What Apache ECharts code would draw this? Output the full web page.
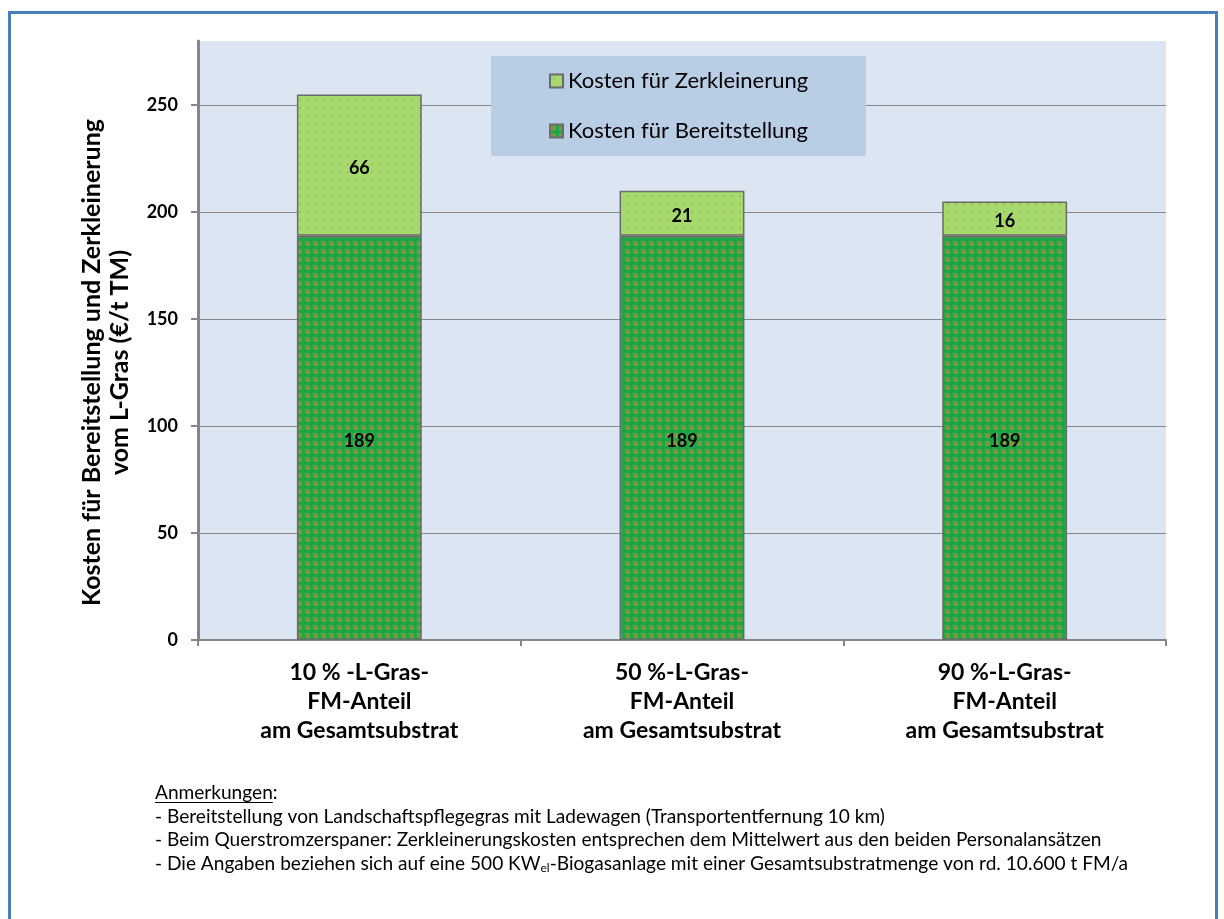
<!DOCTYPE html>
<html>
<head>
<meta charset="utf-8">
<script src="https://cdn.jsdelivr.net/npm/echarts@6/dist/echarts.min.js"></script>
<style>
html,body{margin:0;padding:0;background:#fff;}
#chart{width:1224px;height:919px;}
</style>
</head>
<body>
<div id="chart"></div>
<script>
// ---- data ----
var categories = ['10 % -L-Gras-\nFM-Anteil\nam Gesamtsubstrat', '50 %-L-Gras-\nFM-Anteil\nam Gesamtsubstrat', '90 %-L-Gras-\nFM-Anteil\nam Gesamtsubstrat'];
var seriesNames = ['Kosten für Bereitstellung', 'Kosten für Zerkleinerung'];
var bereitstellung = [189, 189, 189];
var zerkleinerung = [66, 21, 16];
var yTicks = [0, 50, 100, 150, 200, 250];
var yAxisTitle = 'Kosten für Bereitstellung und Zerkleinerung\nvom L-Gras (€/t TM)';
var notesTitle = 'Anmerkungen';
var notes = [
  '- Bereitstellung von Landschaftspflegegras mit Ladewagen (Transportentfernung 10 km)',
  '- Beim Querstromzerspaner: Zerkleinerungskosten entsprechen dem Mittelwert aus den beiden Personalansätzen',
  '- Die Angaben beziehen sich auf eine 500 KW{sub|el}-Biogasanlage mit einer Gesamtsubstratmenge von rd. 10.600 t FM/a'
];

var FONT = 'Lato, "Open Sans", sans-serif';
var NOTE_SIZE = 19.1;

function makePattern(kind) {
  var c = document.createElement('canvas');
  c.width = 8; c.height = 8;
  var g = c.getContext('2d');
  if (kind === 'dark') {
    g.fillStyle = '#1ca64a'; g.fillRect(0, 0, 8, 8);
    g.fillStyle = '#7c983a'; g.fillRect(1, 1, 5, 5);
  } else {
    g.fillStyle = '#a8d96f'; g.fillRect(0, 0, 8, 8);
    g.fillStyle = '#8fc75a'; g.fillRect(3, 3, 2, 2);
  }
  return { image: c, repeat: 'repeat' };
}
var darkPat = makePattern('dark');
var lightPat = makePattern('light');

// underline width for notes title
var mc = document.createElement('canvas').getContext('2d');
mc.font = NOTE_SIZE + 'px ' + FONT;
var ulW = mc.measureText(notesTitle).width;

var chart = echarts.init(document.getElementById('chart'), null, {renderer: 'canvas'});

var noteGraphics = [];
noteGraphics.push({
  type: 'text', x: 155, y: 793, z: 10,
  style: { text: notesTitle + ':', font: NOTE_SIZE + 'px ' + FONT, fill: '#000', verticalAlign: 'middle' }
});
noteGraphics.push({
  type: 'line', z: 10,
  shape: { x1: 155, y1: 802.5, x2: 155 + ulW, y2: 802.5 },
  style: { stroke: '#000', lineWidth: 1 }
});
notes.forEach(function (t, i) {
  noteGraphics.push({
    type: 'text', x: 155, y: 816.5 + i * 23.5, z: 10,
    style: {
      text: t, font: NOTE_SIZE + 'px ' + FONT, fill: '#000', verticalAlign: 'middle',
      rich: { sub: { fontSize: 12, fontFamily: FONT, padding: [10, 0, 0, 0] } }
    }
  });
});

var labelStyle = { show: true, position: 'inside', offset: [0, 3], fontSize: 18, fontWeight: 'bold', color: '#000', fontFamily: FONT };

var option = {
  animation: false,
  textStyle: { fontFamily: FONT },
  grid: {
    left: 198, right: 58, top: 41, bottom: 279,
    show: true, backgroundColor: '#dce6f2', borderWidth: 0
  },
  legend: {
    data: [seriesNames[1], seriesNames[0]],
    orient: 'vertical',
    left: 544, top: 65,
    itemWidth: 13, itemHeight: 13, itemGap: 28,
    icon: 'rect',
    z: 6,
    textStyle: { fontSize: 22, lineHeight: 22, color: '#000', fontFamily: FONT }
  },
  xAxis: {
    type: 'category',
    data: categories,
    axisLine: { show: true, lineStyle: { color: '#868686', width: 2 } },
    axisTick: { show: true, alignWithLabel: false, length: 6, lineStyle: { color: '#868686', width: 2 } },
    axisLabel: {
      interval: 0, margin: 18, lineHeight: 29,
      fontSize: 23, fontWeight: 'bold', color: '#000', fontFamily: FONT
    },
    splitLine: { show: false }
  },
  yAxis: {
    type: 'value',
    min: 0, max: 280, interval: 50,
    name: yAxisTitle,
    nameLocation: 'middle',
    nameGap: 64,
    nameTextStyle: { fontSize: 25, fontWeight: 'bold', color: '#000', lineHeight: 28, fontFamily: FONT, padding: [0, 44, 0, 0] },
    axisLine: { show: true, lineStyle: { color: '#868686', width: 3 } },
    axisTick: { show: true, length: 7, customValues: yTicks, lineStyle: { color: '#868686', width: 2 } },
    axisLabel: { customValues: yTicks, margin: 20, fontSize: 18, fontWeight: 'bold', color: '#000', fontFamily: FONT },
    splitLine: {
      show: true,
      lineStyle: { color: ['#868686', '#868686', '#868686', '#868686', '#868686', '#868686', 'rgba(0,0,0,0)'], width: 1 }
    }
  },
  graphic: [
    {
      type: 'rect', z: 5,
      shape: { x: 491, y: 56, width: 375, height: 100 },
      style: { fill: '#b9cde5', stroke: 'none' }
    },
    {
      type: 'rect', z: 20,
      shape: { x: 9.5, y: 12.5, width: 1207, height: 940 },
      style: { fill: 'none', stroke: '#4a7ebb', lineWidth: 3 }
    }
  ].concat(noteGraphics),
  series: [
    {
      name: seriesNames[0], type: 'bar', stack: 'total', barWidth: '38.7%',
      data: bereitstellung,
      itemStyle: { color: darkPat, borderColor: '#6b6b6b', borderWidth: 1.5 },
      label: labelStyle
    },
    {
      name: seriesNames[1], type: 'bar', stack: 'total', barWidth: '38.7%',
      data: zerkleinerung,
      itemStyle: { color: lightPat, borderColor: '#6b6b6b', borderWidth: 1.5 },
      label: labelStyle
    }
  ]
};
chart.setOption(option);
</script>
</body>
</html>
